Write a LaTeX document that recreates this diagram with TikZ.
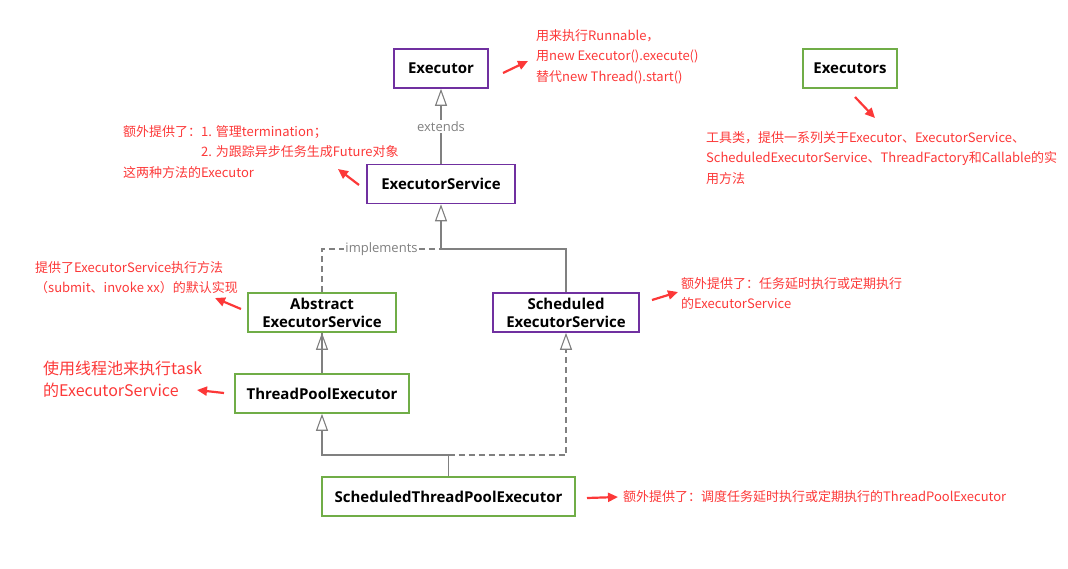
\documentclass[tikz,border=0pt]{standalone}
\usepackage{fontspec}
\setmainfont{Noto Sans CJK SC}
\newfontfamily\boxfont{Open Sans}
\usetikzlibrary{arrows.meta}

\definecolor{ifacepurple}{RGB}{112,48,160}
\definecolor{classgreen}{RGB}{112,173,71}
\definecolor{linegray}{RGB}{128,128,128}
\definecolor{notered}{RGB}{252,56,56}

\tikzset{
  box/.style={fill=white, line width=1.6pt, inner sep=0pt, minimum height=39pt,
    align=center, font=\boxfont\bfseries\fontsize{15}{18}\selectfont},
  iface/.style={box, draw=ifacepurple},
  impl/.style={box, draw=classgreen},
  gline/.style={draw=linegray, line width=1.1pt},
  inherit/.style={gline, -{Triangle[open, length=17pt, width=12pt, line width=1.1pt]}},
  realize/.style={inherit, dash pattern=on 6pt off 4pt},
  lbl/.style={fill=white, text=linegray, inner sep=1.5pt, font=\boxfont\fontsize{13}{15}\selectfont},
  note/.style={text=notered, anchor=west, inner sep=0pt, align=left, font=\fontsize{13}{20.5}\selectfont},
  redarrow/.style={draw=notered, line width=2.2pt, -{Triangle[length=10pt, width=9pt]}}
}

\begin{document}
\begin{tikzpicture}[x=1pt,y=1pt,yscale=-1]
\path[use as bounding box] (0,0) rectangle (1068,568);

%Shape: class boxes
\node[iface, minimum width=94pt]  (ex)   at (441,68.5)  {Executor};
\node[impl, minimum width=94pt]   (exs)  at (850,68.5)  {Executors};
\node[iface, minimum width=148pt] (es)   at (441,184)   {ExecutorService};
\node[impl, minimum width=148pt]  (aes)  at (322,312.5) {Abstract\\ExecutorService};
\node[iface, minimum width=146pt] (ses)  at (566,312.5) {Scheduled\\ExecutorService};
\node[impl, minimum width=174pt]  (tpe)  at (322,393.5) {ThreadPoolExecutor};
\node[impl, minimum width=253pt]  (stpe) at (448.5,496.5) {ScheduledThreadPoolExecutor};

%Straight Lines: inheritance
\draw[inherit] (es.north) -- node[lbl] {extends} (ex.south);
\coordinate (j1) at (441,249);
\draw[gline] (ses.north) |- (j1);
\draw[gline, dash pattern=on 6pt off 4pt] (aes.north) |- node[lbl, pos=0.75] {implements} (j1);
\draw[inherit] (j1) -- (es.south);
\draw[gline] (aes.south) -- (tpe.north);
\draw[inherit] (tpe.north) -- (aes.south);
\coordinate (j2) at (448.5,455);
\draw[gline] (stpe.north) -- (j2);
\draw[inherit] (j2) -| (tpe.south);
\draw[realize] (j2) -| (ses.south);

% Text Node: notes
\node[note] (nex) at (536,56.5) {用来执行Runnable，\\用new Executor().execute()\\替代new Thread().start()};
\node[note] (nes) at (123,152) {额外提供了：1. 管理termination；\\\phantom{额外提供了：}2. 为跟踪异步任务生成Future对象\\这两种方法的Executor};
\node[note] (nexs) at (706,158) {工具类，提供一系列关于Executor、ExecutorService、\\ScheduledExecutorService、ThreadFactory和Callable的实\\用方法};
\node[note] (naes) at (35,277.5) {提供了ExecutorService执行方法\\（submit、invoke xx）的默认实现};
\node[note, font=\fontsize{16}{22}\selectfont] (ntpe) at (43,379) {使用线程池来执行task\\的ExecutorService};
\node[note] (nses) at (681,293.5) {额外提供了：任务延时执行或定期执行\\的ExecutorService};
\node[note] (nstpe) at (623,496.5) {额外提供了：调度任务延时执行或定期执行的ThreadPoolExecutor};

% red pointers
\coordinate (a1) at (503,73);   \coordinate (b1) at (528,61);
\coordinate (a2) at (359,185);  \coordinate (b2) at (338,169);
\coordinate (a3) at (855,97);   \coordinate (b3) at (875,118);
\coordinate (a4) at (241,309);  \coordinate (b4) at (215,298);
\coordinate (a5) at (224,393);  \coordinate (b5) at (197,390);
\coordinate (a6) at (652,300);  \coordinate (b6) at (678,292);
\coordinate (a7) at (587,498);  \coordinate (b7) at (618,497);
\foreach \i in {1,...,7}
  \draw[redarrow] (a\i) -- (b\i);

\end{tikzpicture}
\end{document}
